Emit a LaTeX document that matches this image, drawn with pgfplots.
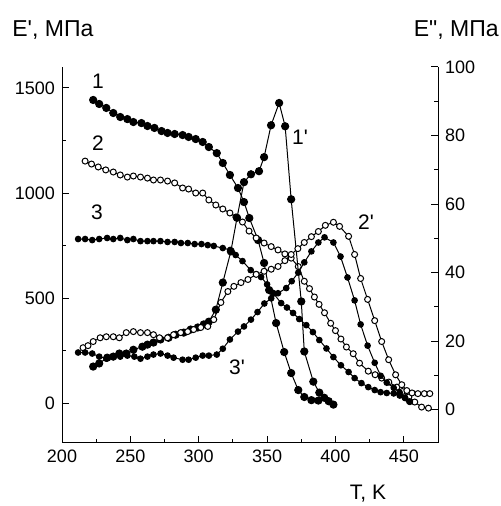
\documentclass[border=0pt]{standalone}
\usepackage{fontspec}
\setmainfont{Liberation Sans}[Ligatures=TeXOff]
\usepackage{pgfplots}
\usepackage{pgfplotstable}
\pgfplotsset{compat=1.18}

% E' (left axis)
\pgfplotstableread{
T E
222.8 1443
227.2 1424
232.4 1405
237.5 1381
242.6 1362
247.8 1352
252.2 1338
258.1 1333
262.5 1319
267.6 1310
272.8 1295
277.2 1286
282.4 1281
288.2 1276
292.6 1267
297.8 1257
302.9 1243
307.4 1219
313.2 1190
317.6 1143
322.8 1086
328.7 1024
333.1 957
337.0 881
343.4 776
347.8 667
351.5 538
356.6 381
362.5 243
367.6 143
372.8 62
377.2 29
382.4 14
387.5 12
}\curveone

\pgfplotstableread{
T E
216.9 1152
221.6 1138
226.5 1124
232.0 1110
237.5 1100
242.6 1086
247.8 1076
252.2 1081
257.4 1076
262.5 1071
266.9 1062
272.0 1062
277.2 1057
282.4 1048
288.2 1024
292.6 1019
297.8 1000
302.9 1000
307.4 967
312.5 943
317.6 924
322.8 905
327.2 886
332.0 862
336.8 819
342.0 786
347.8 762
353.0 745
358.0 729
363.0 710
367.6 690
372.8 650
377.2 580
381.0 545
384.6 505
388.0 470
392.0 430
396.5 380
400.0 345
404.0 305
408.0 267
413.0 235
417.6 190
424.0 152
429.0 135
433.8 119
439.0 100
444.9 76
449.0 55
453.7 29
458.0 5
463.0 -19
468.0 -24
}\curvetwo

\pgfplotstableread{
T E
211.8 781
216.9 781
222.1 776
227.2 781
233.0 786
237.5 781
242.6 786
247.8 776
252.2 781
257.4 771
262.5 771
266.9 771
272.0 771
277.2 767
282.4 767
287.0 762
292.0 762
297.0 757
302.0 757
306.6 752
311.0 748
317.6 738
323.0 729
327.0 705
332.0 676
338.0 633
342.0 614
345.6 600
350.0 565
354.4 524
360.3 476
364.5 455
369.0 429
373.5 400
378.7 371
383.5 338
388.2 300
393.4 260
398.5 219
404.0 180
409.6 148
414.0 119
419.0 95
424.0 76
428.7 62
433.0 52
437.5 48
442.6 46
447.0 36
451.0 24
454.0 8
}\curvethree

% E'' (right axis)
\pgfplotstableread{
T E
222.8 12.6
227.2 13.5
233.1 15.2
237.5 15.5
241.9 16.4
247.0 16.4
252.2 17.5
258.8 18.4
262.5 19.0
266.9 19.6
272.0 20.5
277.9 21.0
283.1 21.9
289.0 22.5
294.1 23.4
299.3 24.0
303.7 24.9
307.4 25.7
312.5 29.2
317.6 37.1
323.5 46.2
328.0 56.0
333.1 66.4
338.2 68.7
344.1 69.6
347.8 73.7
352.9 83.0
358.8 89.5
363.2 82.7
367.6 61.4
375.0 31.6
377.2 17.0
383.8 8.2
388.2 5.0
391.8 3.5
395.0 2.5
398.5 1.5
}\curveonep

\pgfplotstableread{
T E
215.4 18.1
219.0 18.7
222.8 19.9
227.9 21.0
232.4 21.3
237.5 21.3
241.9 21.0
247.0 22.5
252.2 22.8
257.4 22.5
262.5 22.5
266.9 21.9
271.3 21.0
277.2 21.0
281.6 21.9
286.8 22.5
291.9 22.8
296.3 23.4
301.5 24.0
306.6 24.3
311.0 26.3
316.2 31.3
321.3 34.5
325.7 36.0
330.9 37.1
336.0 38.0
342.0 39.5
347.8 40.4
353.0 41.0
358.0 41.8
363.0 43.5
367.6 45.3
372.5 47.0
377.2 48.8
382.4 50.5
387.5 52.0
392.6 53.8
398.5 54.7
403.0 53.5
409.6 50.6
414.0 45.3
418.4 38.3
423.5 32.2
428.7 26.0
433.8 19.9
438.9 14.6
444.0 10.2
448.5 7.3
452.2 5.6
456.0 4.9
460.3 4.7
465.0 4.7
469.0 4.7
}\curvetwop

\pgfplotstableread{
T E
211.8 16.7
216.9 16.7
222.1 16.4
227.2 15.5
232.4 14.9
237.5 15.5
242.6 15.5
247.8 15.8
252.9 15.5
257.4 14.9
262.5 15.5
266.9 16.1
272.1 16.4
277.2 15.8
281.6 15.2
288.2 14.6
292.6 14.6
297.8 15.2
302.9 15.8
307.4 15.8
313.2 16.1
317.6 17.8
322.8 20.5
328.7 22.8
333.1 24.3
338.2 26.3
343.0 28.5
348.0 31.0
353.0 32.5
358.0 34.0
364.0 35.5
368.0 37.5
372.8 40.0
377.2 43.0
382.4 46.2
387.5 48.8
392.0 50.3
398.5 48.8
403.7 44.7
408.8 38.6
414.0 31.9
418.4 24.9
423.5 18.7
428.7 13.7
433.1 9.9
437.5 7.9
442.6 6.4
447.0 5.0
450.7 3.5
454.4 2.3
}\curvethreep

\pgfplotsset{
  base/.style={
    scale only axis, width=188pt, height=188pt,
    at={(0,0)}, anchor=south west,
    xmin=200, xmax=475,
    axis line style={line width=0.5pt},
    tick style={black, line width=0.5pt},
    major tick length=3.5pt, minor tick length=2pt,
    tick label style={font=\fontsize{9}{10}\selectfont},
    /pgf/number format/assume math mode=true,
    /pgf/number format/1000 sep={},
  },
  big/.style={black, line width=0.5pt, mark=*, mark size=1.8pt, mark options={solid, fill=black}},
  small/.style={black, line width=0.5pt, mark=*, mark size=1.4pt, mark options={solid, fill=black}},
  open/.style={black, line width=0.5pt, mark=*, mark size=1.5pt, mark options={solid, fill=white, line width=0.5pt}},
}

\begin{document}
\begin{tikzpicture}
\useasboundingbox (-31pt,-31.5pt) rectangle (219pt,221.5pt);

\begin{axis}[base,
  axis x line*=bottom, axis y line*=left,
  ymin=-190, ymax=1600,
  xtick={200,250,...,450}, minor x tick num=1,
  ytick={0,500,1000,1500}, minor y tick num=1,
]
\addplot[big] table[x=T, y=E] {\curveone};
\addplot[open] table[x=T, y=E] {\curvetwo};
\addplot[small] table[x=T, y=E] {\curvethree};
\end{axis}

\begin{axis}[base,
  axis x line=none, axis y line*=right,
  ymin=-9.7, ymax=100,
  ytick={0,20,...,100}, minor y tick num=1,
]
\addplot[big] table[x=T, y=E] {\curveonep};
\addplot[open] table[x=T, y=E] {\curvetwop};
\addplot[small] table[x=T, y=E] {\curvethreep};
\end{axis}

\begin{scope}[every node/.style={font=\fontsize{10.5}{12}\selectfont, inner sep=0pt}]
\node at (18pt,181pt) {1};
\node at (18pt,150pt) {2};
\node at (17.5pt,115.5pt) {3};
\node at (119pt,153pt) {1'};
\node at (152pt,110.5pt) {2'};
\node at (87.5pt,38pt) {3'};
\end{scope}

\node[anchor=west, inner sep=0pt, font=\fontsize{11.5}{13}\selectfont] at (-25pt,206.5pt) {E', МПа};
\node[anchor=east, inner sep=0pt, font=\fontsize{11.5}{13}\selectfont] at (218.5pt,206.5pt) {E", МПа};
\node[inner sep=0pt, font=\fontsize{10.5}{12}\selectfont] at (153pt,-25.5pt) {T, K};
\end{tikzpicture}
\end{document}
